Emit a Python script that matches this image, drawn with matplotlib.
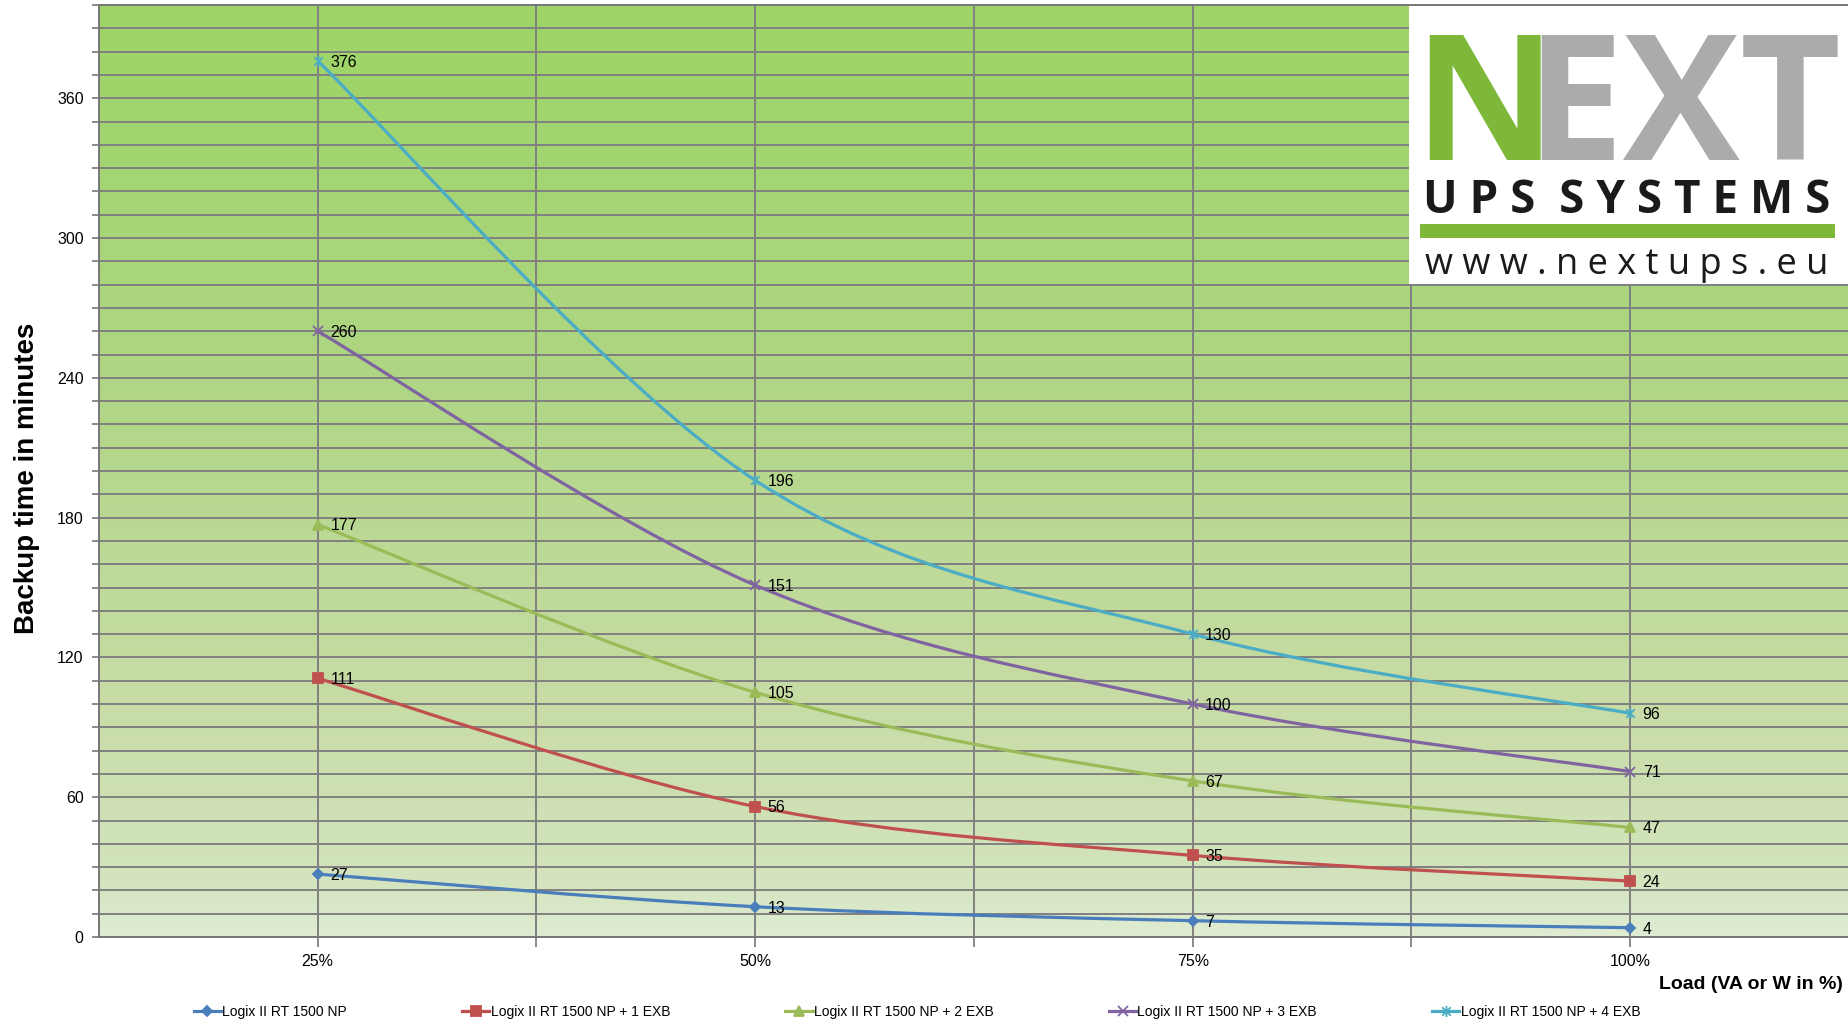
import numpy as np
import matplotlib
matplotlib.use('Agg')
import matplotlib.pyplot as plt
from matplotlib.path import Path
from matplotlib.patches import PathPatch, Rectangle
from matplotlib.lines import Line2D
from matplotlib.colors import LinearSegmentedColormap

# data
loads = ['25%', '50%', '75%', '100%']
series_names = ['Logix II RT 1500 NP', 'Logix II RT 1500 NP + 1 EXB', 'Logix II RT 1500 NP + 2 EXB',
                'Logix II RT 1500 NP + 3 EXB', 'Logix II RT 1500 NP + 4 EXB']
backup_np = [27, 13, 7, 4]
backup_1exb = [111, 56, 35, 24]
backup_2exb = [177, 105, 67, 47]
backup_3exb = [260, 151, 100, 71]
backup_4exb = [376, 196, 130, 96]

colors = ['#4A7EBB', '#C0504D', '#9BBB59', '#8064A2', '#4BACC6']

star = Path([(-1, -1), (1, 1), (-1, 1), (1, -1), (0, -1.3), (0, 1.3)],
            [Path.MOVETO, Path.LINETO, Path.MOVETO, Path.LINETO, Path.MOVETO, Path.LINETO])
markers = [('D', 5.5), ('s', 7), ('^', 7.5), ('x', 7), (star, 8)]

plt.rcParams['font.family'] = ['Liberation Sans', 'DejaVu Sans']


def smooth_path(xs, ys):
    # excel-like smoothed line as bezier segments
    pts = list(zip(xs, ys))
    ext = [pts[0]] + pts + [pts[-1]]
    verts = [pts[0]]
    codes = [Path.MOVETO]
    for i in range(1, len(ext) - 2):
        p0, p1, p2, p3 = ext[i - 1], ext[i], ext[i + 1], ext[i + 2]
        c1 = (p1[0] + (p2[0] - p0[0]) / 6, p1[1] + (p2[1] - p0[1]) / 6)
        c2 = (p2[0] - (p3[0] - p1[0]) / 6, p2[1] - (p3[1] - p1[1]) / 6)
        verts += [c1, c2, p2]
        codes += [Path.CURVE4] * 3
    return Path(verts, codes)


fig = plt.figure(figsize=(18.49, 10.28), dpi=100)
ax = fig.add_axes([99 / 1849, 91 / 1028, 1750 / 1849, 932 / 1028])

# background gradient
grad = LinearSegmentedColormap.from_list('bg', [(0.0, '#DFECD3'), (0.06, '#D3E4BE'), (0.25, '#C8DCA6'),
                                                (0.6, '#AFD684'), (0.85, '#A2D570'), (1.0, '#9DD465')])
ax.imshow(np.linspace(0, 1, 256).reshape(-1, 1), cmap=grad, origin='lower', aspect='auto',
          extent=(0.5, 4.5, 0, 400), zorder=0)

x = np.arange(1, len(loads) + 1)
all_series = [backup_np, backup_1exb, backup_2exb, backup_3exb, backup_4exb]
handles = []
for vals, col, (mk, ms), name in zip(all_series, colors, markers, series_names):
    ax.add_patch(PathPatch(smooth_path(x, vals), facecolor='none', edgecolor=col, lw=2.3, zorder=3))
    ax.plot(x, vals, linestyle='none', marker=mk, markersize=ms, color=col, mec=col, mew=1.3, zorder=4)
    for xi, v in zip(x, vals):
        ax.annotate(str(v), (xi, v), xytext=(9, -1), textcoords='offset points',
                    ha='left', va='center', fontsize=11.5, color='black', zorder=5)
    handles.append(Line2D([], [], color=col, lw=2.3, marker=mk, markersize=ms, mew=1.3))

ax.set_xlim(0.5, 4.5)
ax.set_ylim(0, 400)
ax.set_xticks(x)
ax.set_xticklabels(loads)
ax.set_xticks(np.arange(1.5, 4.6, 1), minor=True)
ax.set_yticks(np.arange(0, 361, 60))
ax.set_yticks(np.arange(0, 401, 10), minor=True)
ax.set_axisbelow(True)
ax.grid(which='both', axis='both', color='#808080', lw=1.4)
ax.tick_params(which='both', direction='out', length=5, color='#808080', width=1.3)
ax.tick_params(axis='x', which='both', length=7, pad=5, labelsize=11.5)
ax.tick_params(axis='y', which='both', pad=6, labelsize=11.5)
for s in ax.spines.values():
    s.set_color('#777777')
    s.set_linewidth(1.4)
ax.set_facecolor('none')

fig.text(0.0145, 0.535, 'Backup time in minutes', rotation=90, ha='center', va='center',
         fontsize=20, fontweight='bold')
fig.text(0.9968, 0.0428, 'Load (VA or W in %)', ha='right', va='center', fontsize=14, fontweight='bold')

fig.legend(handles, series_names, loc='center', bbox_to_anchor=(0.496, 0.0156), ncol=5,
           frameon=False, fontsize=10, handlelength=1.95, handletextpad=0.1, columnspacing=8.3)

# logo box
lg = fig.add_axes([1409 / 1849, 744 / 1028, 440 / 1849, 278 / 1028])
lg.set_xlim(0, 440)
lg.set_ylim(278, 0)
lg.axis('off')
lg.add_patch(Rectangle((0, 0), 440, 278, facecolor='white', edgecolor='none'))
lg.text(4, 154, 'N', color='#7DB83A', fontsize=126, fontweight='bold', family='Open Sans',
        ha='left', va='baseline')
lg.text(432, 154, 'EXT', color='#ABABAB', fontsize=126, fontweight='bold', family='Open Sans',
        ha='right', va='baseline')
lg.add_patch(Rectangle((11, 218), 415, 14, facecolor='#7DB83A', edgecolor='none'))
lg.text(218, 207, 'U P S  S Y S T E M S', color='#1a1a1a', fontsize=33, fontweight='bold',
        family='Open Sans', ha='center', va='baseline')
lg.text(218, 268, 'w w w . n e x t u p s . e u', color='#1a1a1a', fontsize=26,
        family='Open Sans', ha='center', va='baseline')

fig.savefig('out.png', dpi=100)
